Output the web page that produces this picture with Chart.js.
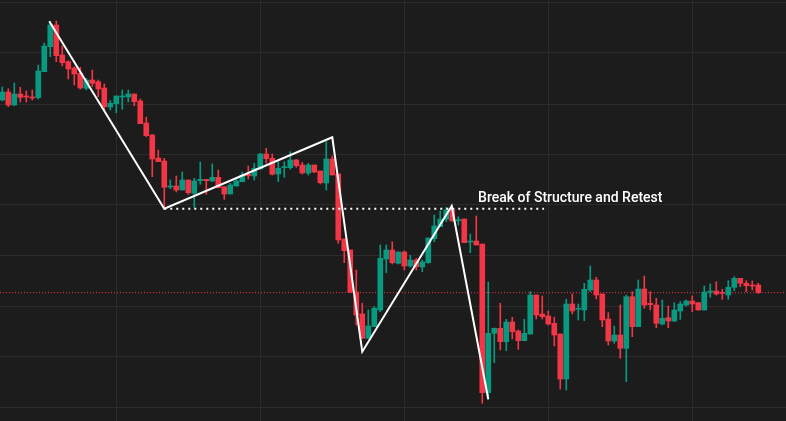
<!DOCTYPE html>
<html>
<head>
<meta charset="utf-8">
<script src="https://cdn.jsdelivr.net/npm/chart.js@4.4.1/dist/chart.umd.min.js"></script>
<style>
  html, body { margin: 0; padding: 0; background: #1c1c1c; }
  #wrap { width: 786px; height: 421px; position: relative; }
</style>
</head>
<body>
<div id="wrap"><canvas id="candles"></canvas></div>
<script>
// OHLC, one candle per index
const opens = [
  321, 329, 316, 327, 325, 324, 323.3, 349.3, 374.3, 396,
  366, 359.3, 353, 347.7, 332.7, 341, 339.3, 333, 314, 317.3,
  324, 324, 327, 320, 298, 286, 263, 260, 234, 235,
  231, 241, 227.7, 240.3, 241.7, 240, 243.7, 234.3, 227, 235,
  239.3, 246.7, 245, 252, 267, 262.7, 247, 253.3, 253.3, 261,
  256, 248, 256, 250, 238, 262, 247, 182, 171, 129,
  107, 82.7, 94.3, 111, 162, 171, 157.7, 169, 155, 161,
  154, 158.3, 182.3, 194.3, 201.7, 211, 200.3, 202, 179, 180,
  177, 28.3, 87.7, 92.7, 79.3, 99, 90, 80.3, 87, 126,
  107, 105, 97.7, 87, 42, 117, 111.7, 111, 131, 141,
  127, 102, 80, 86, 72.7, 124.3, 94.3, 132, 117.7, 116,
  97, 103.3, 100, 110, 116, 120, 118.3, 111, 128.7, 130,
  128.7, 126, 133.7, 142.7, 137.7, 136, 136
];
const highs = [
  334, 332.3, 338, 333.7, 330, 331, 356, 378, 399.3, 400,
  375, 360.3, 354.3, 353.7, 342.7, 351, 341, 337, 320.3, 325,
  331, 331, 327, 322, 304, 286.7, 271, 262.7, 241, 245,
  249, 241, 242.7, 259, 241.7, 257, 251, 234.3, 237.7, 243.7,
  249, 255, 257.7, 267.7, 272.7, 267, 259.3, 259.3, 269.3, 261.7,
  258.7, 257.7, 256, 250, 279.3, 265, 247, 182, 171, 151,
  117.7, 111, 114.3, 176, 176, 179.3, 169, 170, 165.7, 162.7,
  161, 183, 206, 210, 213.7, 215, 204.3, 202, 187, 205,
  177, 139, 93, 117.7, 101.7, 103.7, 91, 101.7, 129.3, 126,
  125, 110, 103.7, 87, 121.7, 127, 117, 137.7, 155, 143.7,
  127, 108.3, 95, 116, 126, 129.3, 141, 145, 129.3, 122.7,
  121, 115, 118.3, 119.3, 121, 125, 118.3, 135, 137, 139.3,
  131.7, 140.3, 144.3, 142.7, 140.3, 140, 137.7
];
const lows = [
  320, 314.3, 315.3, 319, 319, 321, 322, 349.3, 364.3, 359.3,
  355, 342, 336, 332, 331, 334.3, 324.3, 310.3, 311, 308.3,
  311.7, 319, 315.3, 297.3, 284.3, 244.3, 259.3, 212.7, 232.3, 229,
  231, 226.7, 213.7, 236.7, 226.7, 239.3, 233, 221.7, 227, 235,
  239.3, 242, 241, 252, 257.7, 246, 239.3, 243.7, 251.7, 253.7,
  247, 246, 248.3, 237, 231, 246, 177.7, 158.3, 128.7, 96,
  82.7, 82.7, 94.3, 109.3, 148.3, 157, 157, 151, 153.7, 151,
  149.3, 157.7, 179.3, 194.3, 199.3, 200, 196, 178.3, 168.3, 176,
  17.7, 21.7, 58.3, 71, 70.3, 82, 71.7, 80.3, 87, 102,
  102, 96, 75, 32, 31, 107, 101, 100.3, 129.3, 122,
  94.3, 76, 77.7, 62.7, 39.3, 84.3, 94.3, 112.7, 111, 93.3,
  96, 93.3, 99.3, 101.7, 115, 109.3, 111, 111, 123.7, 126,
  121.7, 121.7, 130.3, 134.3, 129.3, 131, 127.7
];
const closes = [
  329, 316, 327, 323.7, 324, 323, 350, 375, 396, 365.3,
  358.3, 352, 347, 333, 341, 337.7, 332, 314.3, 317.7, 325,
  324.7, 327, 319.3, 297.3, 285.3, 262, 259.3, 233.7, 235, 231,
  241, 228.3, 240, 241.7, 240.3, 243.7, 233.3, 227, 236, 240,
  246, 245.3, 252.7, 267, 262.3, 246.7, 252.7, 254.3, 261, 255.3,
  248, 256, 249, 238.3, 262, 246, 181, 170.3, 128.7, 106,
  82.7, 95, 112.7, 162.7, 171, 158.3, 169, 155, 161, 154.3,
  159, 183, 195, 202, 211, 200, 201.3, 178.3, 180, 176,
  28.3, 87.7, 92.7, 79.3, 99, 89.3, 80.3, 87.7, 126, 106,
  104.3, 97, 86, 42, 117, 110, 112, 131.7, 141, 126,
  101, 80, 86, 72.7, 124.3, 94.3, 132, 116, 116.3, 97.7,
  102.7, 100, 111, 117, 120, 117, 111, 129, 130, 127,
  127.7, 133.7, 142.7, 137.7, 135.3, 135, 128.3
];

// hand drawn swing line (candle index, price)
const swingX = [7.83, 27, 55, 60, 74.9, 81];
const swingY = [399.7, 212.3, 283.7, 69.3, 215, 21.7];
// break of structure level
const levelX = [27, 90.3];
const levelPrice = 212.3;
const labelText = "Break of Structure and Retest";
const labelAt = { x: 79.3, y: 222.5 };

// grid positions (no labels shown)
const timeGrid = [19, 43, 67, 91, 115];
const priceGrid = [14, 65, 115, 166, 216, 267, 317, 368, 418.5];

const xMin = -0.38, xMax = 130.62;
const UP = "#089981", DOWN = "#f23645";

const colors = opens.map((o, i) => closes[i] >= o ? UP : DOWN);
const bodies = opens.map((o, i) => ({ x: i, y: [o, closes[i]] }));
const wicks = opens.map((o, i) => ({ x: i, y: [lows[i], highs[i]] }));
const lastClose = closes[closes.length - 1];

const labelPlugin = {
    id: "bosLabel",
    afterDatasetsDraw(chart) {
        const { ctx, scales } = chart;
        ctx.save();
        ctx.font = '500 14px Roboto, "Noto Sans", sans-serif';
        ctx.fillStyle = "#ffffff";
        ctx.textAlign = "left";
        ctx.textBaseline = "middle";
        ctx.fillText(labelText, scales.x.getPixelForValue(labelAt.x), scales.y.getPixelForValue(labelAt.y));
        ctx.restore();
    }
};

new Chart(document.getElementById("candles"), {
    type: "bar",
    data: {
        datasets: [
            {
                type: "line",
                data: swingX.map((x, i) => ({ x: x, y: swingY[i] })),
                borderColor: "#ffffff",
                borderWidth: 2,
                pointRadius: 0,
                tension: 0,
                order: 1
            },
            {
                type: "line",
                data: levelX.map(x => ({ x: x, y: levelPrice })),
                borderColor: "#ffffff",
                borderWidth: 2,
                borderDash: [2, 4],
                pointRadius: 0,
                order: 2
            },
            {
                type: "line",
                data: [{ x: xMin, y: lastClose }, { x: xMax, y: lastClose }],
                borderColor: DOWN,
                borderWidth: 1,
                borderDash: [1, 2],
                pointRadius: 0,
                order: 5
            },
            {
                data: bodies,
                backgroundColor: colors,
                barThickness: 5,
                minBarLength: 1,
                grouped: false,
                order: 3
            },
            {
                data: wicks,
                backgroundColor: colors,
                barThickness: 1,
                grouped: false,
                order: 4
            }
        ]
    },
    plugins: [labelPlugin],
    options: {
        responsive: true,
        maintainAspectRatio: false,
        animation: false,
        layout: { padding: 0 },
        plugins: {
            legend: { display: false },
            tooltip: { enabled: false }
        },
        scales: {
            x: {
                type: "linear",
                min: xMin,
                max: xMax,
                offset: false,
                grid: { color: "#2b2b2b", offset: false, drawTicks: false },
                border: { display: false },
                ticks: { display: false },
                afterBuildTicks: scale => { scale.ticks = timeGrid.map(v => ({ value: v })); }
            },
            y: {
                min: 0,
                max: 421,
                grid: { color: "#2b2b2b", drawTicks: false },
                border: { display: false },
                ticks: { display: false },
                afterBuildTicks: scale => { scale.ticks = priceGrid.map(v => ({ value: v })); }
            }
        }
    }
});
</script>
</body>
</html>
